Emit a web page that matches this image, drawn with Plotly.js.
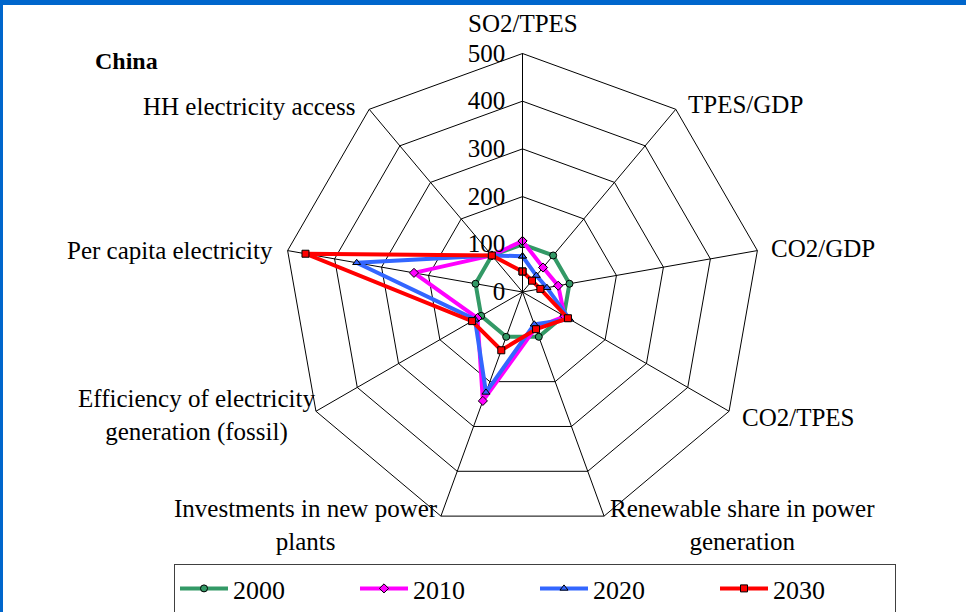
<!DOCTYPE html>
<html>
<head>
<meta charset="utf-8">
<script src="https://cdn.plot.ly/plotly-3.0.1.min.js"></script>
<style>
  body { margin: 0; padding: 0; background: #fff; }
  #wrap { position: relative; width: 966px; height: 612px; }
  #chart { position: absolute; left: 0; top: 0; width: 966px; height: 612px; }
  .edge { position: absolute; background: #0066CC; pointer-events: none; }
</style>
</head>
<body>
<div id="wrap">
  <div id="chart"></div>
  <div class="edge" style="left:0;top:0;width:966px;height:5px;"></div>
  <div class="edge" style="left:0;top:0;width:3px;height:612px;"></div>
</div>
<script>
// indicator axes, clockwise from the top
var indicators = [
  'SO2/TPES',
  'TPES/GDP',
  'CO2/GDP',
  'CO2/TPES',
  'Renewable share in power<br>generation',
  'Investments in new power<br>plants',
  'Efficiency of electricity<br>generation (fossil)',
  'Per capita electricity',
  'HH electricity access'
];

var years = ['2000', '2010', '2020', '2030'];

// index values, 2000 = 100
var v2000 = [100, 100, 100, 100, 100, 100, 100, 100, 100];
var v2010 = [107, 67, 76, 102, 80, 243, 109, 231, 100];
var v2020 = [75, 45, 52, 114, 72, 224, 115, 353, 100];
var v2030 = [43, 31, 38, 110, 83, 130, 122, 462, 100];

var radialTicks = [0, 100, 200, 300, 400, 500];

var lineColors = ['#339966', '#FF00FF', '#3366FF', '#FF0000'];
var symbols = ['circle', 'diamond', 'triangle-up', 'square'];
var series = [v2000, v2010, v2020, v2030];

// where the spoke labels sit (page pixels, centre of the text block)
var labelPos = [
  [523, 24], [745, 105], [823, 249], [798, 417], [742, 525],
  [306, 525], [196, 415], [170, 250], [249, 106]
];

var M = { l: 284, r: 205, t: 53, b: 81 };
var W = 966, H = 612;
var plotW = W - M.l - M.r, plotH = H - M.t - M.b;

// close the polygon by repeating the first point
function closed(arr) { return arr.concat([arr[0]]); }

var data = [];
for (var i = 0; i < series.length; i++) {
  data.push({
    type: 'scatterpolar',
    r: closed(series[i]),
    theta: closed(indicators),
    name: years[i],
    mode: 'lines+markers',
    line: { color: lineColors[i], width: 4 },
    marker: {
      symbol: symbols[i],
      size: 7,
      color: lineColors[i],
      line: { color: '#000', width: 1 }
    },
    cliponaxis: false
  });
}

var annotations = indicators.map(function(txt, k) {
  return {
    text: txt,
    xref: 'paper', yref: 'paper',
    x: (labelPos[k][0] - M.l) / plotW,
    y: (H - M.b - labelPos[k][1]) / plotH,
    xanchor: 'center', yanchor: 'middle',
    align: 'center',
    showarrow: false,
    font: { size: 25 }
  };
});

annotations.push({
  text: '<b>China</b>',
  xref: 'paper', yref: 'paper',
  x: (93 - M.l) / plotW, y: (H - M.b - 61) / plotH,
  xanchor: 'left', yanchor: 'middle',
  showarrow: false,
  font: { size: 24 }
});

var layout = {
  width: W,
  height: H,
  margin: { l: M.l, r: M.r, t: M.t, b: M.b, autoexpand: false },
  paper_bgcolor: '#fff',
  font: { family: 'Liberation Serif, Times New Roman, serif', size: 25, color: '#000' },
  showlegend: true,
  polar: {
    domain: { x: [0, 1], y: [0, 1] },
    gridshape: 'linear',
    bgcolor: '#fff',
    angularaxis: {
      direction: 'clockwise',
      rotation: 90,
      categoryarray: indicators,
      showline: true,
      linecolor: '#000',
      linewidth: 1,
      gridcolor: '#000',
      gridwidth: 1,
      ticks: '',
      showticklabels: false
    },
    radialaxis: {
      range: [0, 500],
      tickvals: radialTicks,
      angle: 90,
      side: 'counterclockwise',
      tickangle: 90,
      ticks: 'outside',
      ticklen: 8,
      tickcolor: 'rgba(0,0,0,0)',
      showline: true,
      linecolor: '#000',
      gridcolor: '#000',
      gridwidth: 1,
      tickfont: { size: 25 }
    }
  },
  legend: {
    orientation: 'h',
    x: (174 - M.l) / plotW,
    xanchor: 'left',
    y: (H - M.b - 564) / plotH,
    yanchor: 'top',
    bordercolor: '#404040',
    borderwidth: 1,
    itemwidth: 48,
    entrywidth: 117,
    font: { size: 26 }
  },
  annotations: annotations
};

Plotly.newPlot('chart', data, layout, { displayModeBar: false });
</script>
</body>
</html>
